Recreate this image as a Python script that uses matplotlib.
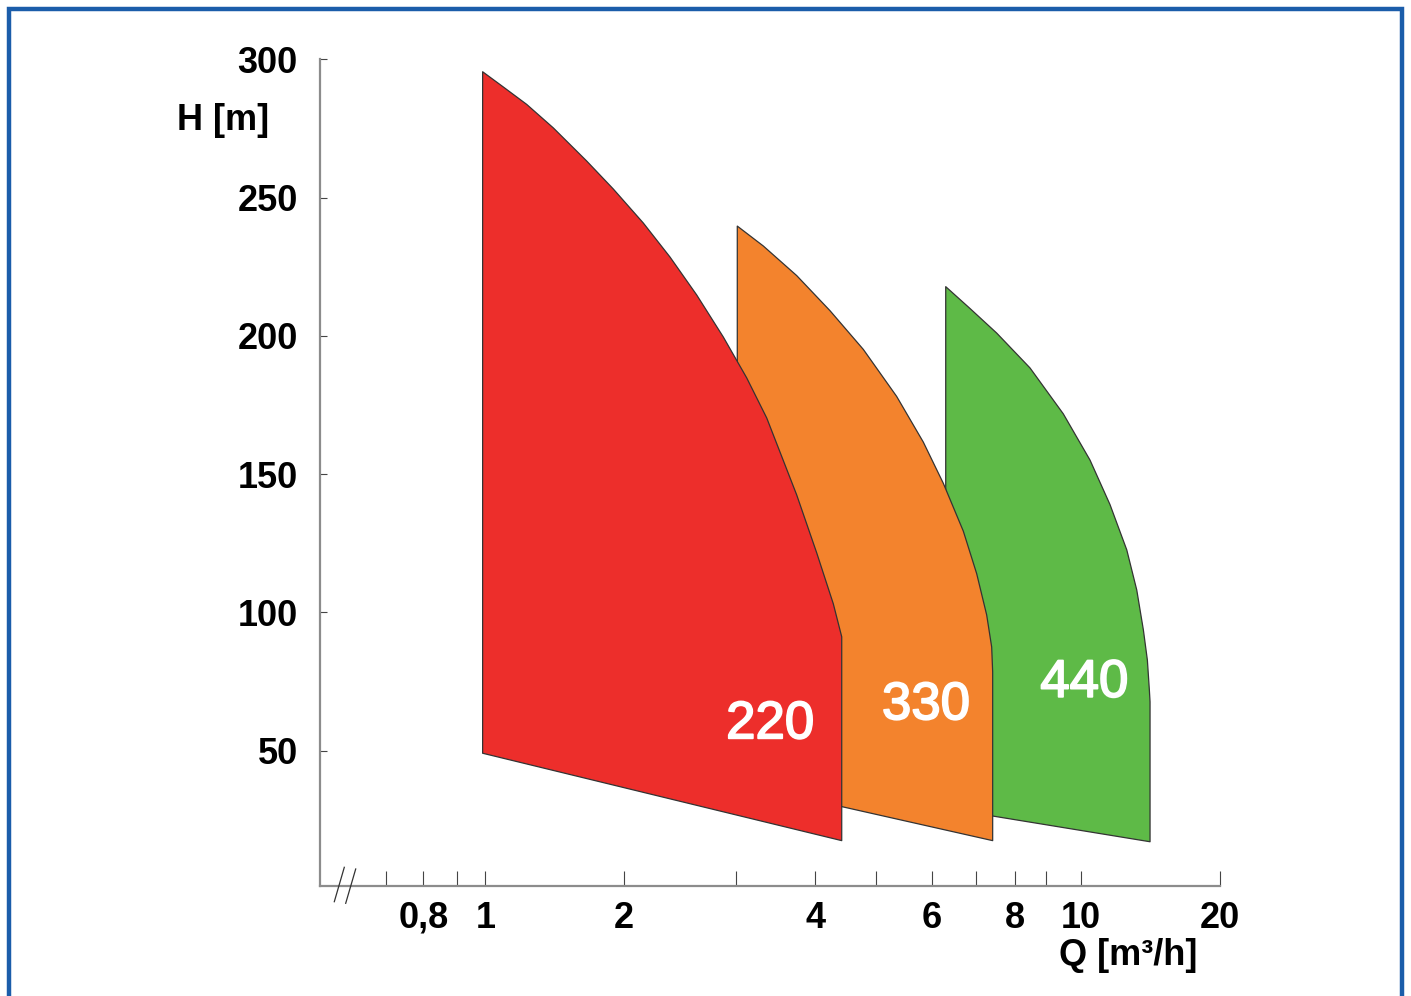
import numpy as np
import matplotlib
matplotlib.use("Agg")
import matplotlib.pyplot as plt
import matplotlib.patheffects as pe
from matplotlib.patches import Rectangle
from matplotlib.lines import Line2D

plt.rcParams['font.family'] = ['Liberation Sans', 'DejaVu Sans']

# ---------------- data ----------------
# pump series 220
red_q = [0.99, 0.99, 1.0943, 1.2303, 1.4058, 1.6621, 1.8986, 2.1469, 2.3641, 2.6031,
         2.8655, 3.1190, 3.3540, 3.7389, 4.0213, 4.2727, 4.406, 4.406]
red_h = [49.1, 295.5, 290.0, 283.7, 275.2, 263.2, 253.1, 240.8, 228.5, 214.8,
         199.6, 184.8, 170.3, 142.5, 121.5, 103.1, 91.2, 17.5]
# pump series 330
orange_q = [3.014, 3.014, 3.3124, 3.7389, 4.2213, 4.7685, 5.3468, 5.8365, 6.2475,
            6.6978, 7.0167, 7.2586, 7.3830, 7.408, 7.408, 4.406]
orange_h = [38.3, 239.7, 232.5, 221.8, 209.1, 195.1, 178.1, 161.6, 146.7,
            129.4, 114.0, 99.1, 87.5, 78.5, 17.5, 29.8]
# pump series 440
green_q = [6.30, 6.30, 6.8555, 7.5109, 8.4603, 9.4771, 10.459, 11.556, 12.565,
           13.206, 13.648, 13.923, 14.062, 14.11, 14.11, 7.408]
green_h = [29.1, 217.8, 209.9, 201.0, 188.4, 171.8, 155.1, 139.0, 122.6,
           108.1, 93.7, 82.8, 72.0, 67.7, 17.1, 26.4]

series_labels = ["220", "330", "440"]
label_q = [3.394, 5.888, 10.166]
label_h = [54.5, 61.4, 69.5]

x_ticks = [0.7, 0.8, 0.9, 1, 2, 3, 4, 5, 6, 7, 8, 9, 10, 20]
x_ticklabels = ["", "0,8", "", "1", "2", "", "4", "", "6", "", "8", "", "10", "20"]
y_ticks = [50, 100, 150, 200, 250, 300]

# ---------------- styling ----------------
RED = "#ED2E2B"
ORANGE = "#F3832D"
GREEN = "#5EBA47"
BLUE = "#1B5DAA"
W, Hpx = 1411, 996

fig = plt.figure(figsize=(W / 100, Hpx / 100), dpi=100)
ax = fig.add_axes([320 / W, 110 / Hpx, 900 / W, (886 - 59.3) / Hpx])

# hand-drawn style quasi-log axis (tick positions of the original drawing)
scale_q = np.log10(np.array(x_ticks, dtype=float))
scale_u = np.array([385.7, 423.3, 457.3, 485.3, 623.7, 736, 815.3, 876.3,
                    931.7, 976, 1015.3, 1046.3, 1081, 1220])
s0 = (scale_u[1] - scale_u[0]) / (scale_q[1] - scale_q[0])
s1 = (scale_u[-1] - scale_u[-2]) / (scale_q[-1] - scale_q[-2])
lq_ext = np.concatenate([[scale_q[0] - 3], scale_q, [scale_q[-1] + 3]])
u_ext = np.concatenate([[scale_u[0] - 3 * s0], scale_u, [scale_u[-1] + 3 * s1]])


def fwd(q):
    q = np.asarray(q, dtype=float)
    return np.interp(np.log10(np.clip(q, 1e-12, None)), lq_ext, u_ext)


def inv(u):
    u = np.asarray(u, dtype=float)
    return 10 ** np.interp(u, u_ext, lq_ext)


ax.set_xscale('function', functions=(fwd, inv))
ax.set_xlim(float(inv(320.0)), 20)
ax.set_ylim(1.1, 300)

edge = dict(edgecolor="#333333", linewidth=0.9, joinstyle="round")
ax.fill(green_q, green_h, facecolor=GREEN, zorder=1, **edge)
ax.fill(orange_q, orange_h, facecolor=ORANGE, zorder=2, **edge)
ax.fill(red_q, red_h, facecolor=RED, zorder=3, **edge)

for t, q, h in zip(series_labels, label_q, label_h):
    ax.text(q, h, t, color="white", fontsize=38, ha="center", va="baseline", zorder=5,
            path_effects=[pe.withStroke(linewidth=1.3, foreground="white")])

# axes styling
for s in ["top", "right"]:
    ax.spines[s].set_visible(False)
for s in ["left", "bottom"]:
    ax.spines[s].set_color("#8c8c8c")
    ax.spines[s].set_linewidth(1.6)

ax.xaxis.set_major_locator(matplotlib.ticker.FixedLocator(x_ticks))
ax.xaxis.set_minor_locator(matplotlib.ticker.NullLocator())
ax.set_xticklabels(x_ticklabels)
ax.set_yticks(y_ticks)
ax.yaxis.set_minor_locator(matplotlib.ticker.NullLocator())
ax.tick_params(axis="x", direction="in", length=11, width=0.8, color="#444444",
               pad=10.5, labelsize=26)
ax.tick_params(axis="y", direction="in", length=5, width=0.8, color="#444444",
               pad=16, labelsize=26)
for lab in ax.get_xticklabels() + ax.get_yticklabels():
    lab.set_fontweight("bold")

# axis titles
fig.text(223.3 / W, 1 - 130 / Hpx, "H [m]", fontsize=26, fontweight="bold",
         ha="center", va="baseline")
fig.text(1128.5 / W, 1 - 965 / Hpx, "Q [m³/h]", fontsize=26, fontweight="bold",
         ha="center", va="baseline")

# axis break marks
for (x0, y0, x1, y1) in [(334.3, 901.7, 344.3, 867.3), (345.7, 903.3, 355.7, 869.0)]:
    fig.add_artist(Line2D([x0 / W, x1 / W], [1 - y0 / Hpx, 1 - y1 / Hpx],
                          transform=fig.transFigure, color="#333333", lw=0.9))

# blue frame
fig.add_artist(Rectangle((9 / W, -10 / Hpx), (1402 - 9) / W, (1 - 9 / Hpx) + 10 / Hpx,
                         transform=fig.transFigure, fill=False, edgecolor=BLUE,
                         linewidth=3.2, clip_on=False))

fig.savefig("out.png", dpi=100)
